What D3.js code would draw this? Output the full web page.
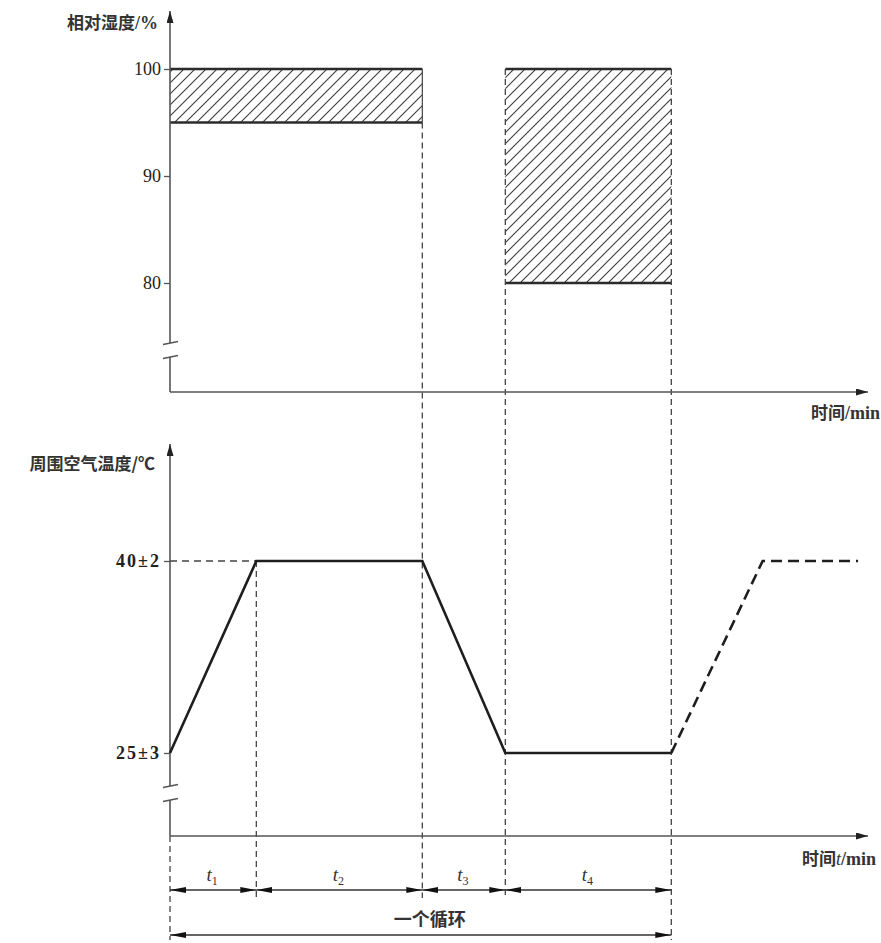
<!DOCTYPE html>
<html>
<head>
<meta charset="utf-8">
<script src="https://cdn.jsdelivr.net/npm/d3@7"></script>
<style>
  body { margin: 0; background: #fff; }
  .cjk { font-family: "Noto Sans CJK SC", sans-serif; font-weight: 700; }
  .num { font-family: "Liberation Serif", "DejaVu Serif", serif; }
</style>
</head>
<body>
<svg id="chart" width="881" height="943"></svg>
<script>
// Phase boundaries of one test cycle (schematic minutes)
const phaseNames = ["1", "2", "3", "4"];
const phaseBounds = [0, 1.04, 3.04, 4.04, 6.04];

// Relative humidity tolerance bands (%)
const bandStart = [0, 4.04];
const bandEnd = [3.04, 6.04];
const bandLow = [95, 80];
const bandHigh = [100, 100];
const humidityTicks = [80, 90, 100];

// Ambient temperature profile of one cycle (°C)
const tempTime = [0, 1.04, 3.04, 4.04, 6.04];
const tempValue = [25, 40, 40, 25, 25];
// Beginning of the following cycle
const nextTime = [6.04, 7.14, 8.29];
const nextValue = [25, 40, 40];
const tempTicks = [25, 40];
const tempTickLabels = ["25±3", "40±2"];

const axisEnd = 8.41;

const svg = d3.select("#chart");
const ink = "#2b2b2b";
const axisInk = "#555";
const serif = '"Liberation Serif", "DejaVu Serif", serif';

const x = d3.scaleLinear().domain([0, 10]).range([170, 1000]);
const yH = d3.scaleLinear().domain([80, 100]).range([283, 69]);
const yT = d3.scaleLinear().domain([25, 40]).range([753, 561]);

// panel layout
const hBase = 392, hTop = 11, hBreak = [343, 357];
const tBase = 836, tTop = 444, tBreak = [786, 800];

const defs = svg.append("defs");
defs.append("pattern")
  .attr("id", "hatch").attr("patternUnits", "userSpaceOnUse")
  .attr("width", 11).attr("height", 11)
  .append("path")
  .attr("d", "M0,11 L11,0 M-3,3 L3,-3 M8,14 L14,8")
  .attr("stroke", "#3a3a3a").attr("stroke-width", 1.1);

function marker(id, len, w, color) {
  defs.append("marker")
    .attr("id", id).attr("markerUnits", "userSpaceOnUse")
    .attr("viewBox", `0 0 ${len} ${w}`)
    .attr("refX", len).attr("refY", w / 2)
    .attr("markerWidth", len).attr("markerHeight", w)
    .attr("orient", "auto-start-reverse")
    .append("path").attr("d", `M0,0 L${len},${w / 2} L0,${w} Z`).attr("fill", color);
}
marker("axArrow", 12, 7, "#222");
marker("dimArrow", 16, 6, "#111");

const line = d3.line();

// ---------- humidity panel ----------
bandStart.forEach((s, i) => {
  const x0 = x(s), x1 = x(bandEnd[i]), y0 = yH(bandHigh[i]), y1 = yH(bandLow[i]);
  svg.append("rect").attr("x", x0).attr("y", y0).attr("width", x1 - x0).attr("height", y1 - y0)
    .attr("fill", "url(#hatch)");
  svg.append("path").attr("d", line([[x0, y0], [x1, y0]])).attr("stroke", ink).attr("stroke-width", 2.4);
  svg.append("path").attr("d", line([[x0, y1], [x1, y1]])).attr("stroke", ink).attr("stroke-width", 2.4);
});
// closing edge of the first band
svg.append("path").attr("d", line([[x(bandEnd[0]), yH(bandHigh[0])], [x(bandEnd[0]), yH(bandLow[0])]]))
  .attr("stroke", "#444").attr("stroke-width", 1.2);

// ---------- phase guide lines ----------
const dashed = (pts, w = 1.3, dash = "6,4") =>
  svg.append("path").attr("d", line(pts)).attr("fill", "none")
    .attr("stroke", "#444").attr("stroke-width", w).attr("stroke-dasharray", dash);

dashed([[x(phaseBounds[0]), tBase], [x(phaseBounds[0]), 940]]);
dashed([[x(phaseBounds[1]), yT(40)], [x(phaseBounds[1]), 898]]);
dashed([[x(phaseBounds[2]), yH(bandLow[0])], [x(phaseBounds[2]), 898]]);
dashed([[x(phaseBounds[3]), yH(100)], [x(phaseBounds[3]), 898]]);
dashed([[x(phaseBounds[4]), yH(100)], [x(phaseBounds[4]), 940]]);

// ---------- axes ----------
function yAxis(scale, ticks, fmt, base, top, brk, spacing, weight) {
  const g = svg.append("g").attr("transform", `translate(${x(0)},0)`)
    .call(d3.axisLeft(scale).tickValues(ticks).tickSize(6).tickPadding(3).tickFormat(fmt));
  g.select(".domain").remove();
  g.attr("font-family", serif).attr("font-size", 18);
  g.selectAll(".tick line").attr("stroke", axisInk).attr("stroke-width", 1.3);
  g.selectAll(".tick text").attr("font-family", serif).attr("font-size", 18).attr("fill", "#222")
    .attr("font-weight", weight).attr("letter-spacing", spacing);
  const ax = x(0);
  svg.append("path").attr("d", line([[ax, base], [ax, brk[1]]])).attr("stroke", axisInk).attr("stroke-width", 1.6);
  svg.append("path").attr("d", line([[ax, brk[0]], [ax, top]])).attr("stroke", axisInk).attr("stroke-width", 1.6)
    .attr("marker-end", "url(#axArrow)");
  brk.forEach(b => svg.append("path").attr("d", line([[ax - 7, b + 1.5], [ax + 8, b - 1.5]]))
    .attr("stroke", axisInk).attr("stroke-width", 1.6));
}
function xAxis(base) {
  svg.append("path").attr("d", line([[x(0), base], [x(axisEnd), base]]))
    .attr("stroke", axisInk).attr("stroke-width", 1.6).attr("marker-end", "url(#axArrow)");
}
yAxis(yH, humidityTicks, null, hBase, hTop, hBreak, 0, 400);
xAxis(hBase);
yAxis(yT, tempTicks, (d, i) => tempTickLabels[i], tBase, tTop, tBreak, 2, 700);
xAxis(tBase);

// ---------- temperature profile ----------
svg.append("path").attr("d", line([[x(0), yT(40)], [x(tempTime[1]), yT(40)]]))
  .attr("stroke", "#444").attr("stroke-width", 1.4).attr("stroke-dasharray", "7,5");
svg.append("path").attr("d", line(tempTime.map((t, i) => [x(t), yT(tempValue[i])])))
  .attr("fill", "none").attr("stroke", "#1e1e1e").attr("stroke-width", 2.6).attr("stroke-linejoin", "miter");
svg.append("path").attr("d", line(nextTime.map((t, i) => [x(t), yT(nextValue[i])])))
  .attr("fill", "none").attr("stroke", "#1e1e1e").attr("stroke-width", 2.6).attr("stroke-dasharray", "11,6");

// ---------- dimension lines ----------
const dimY = 890, cycleY = 935;
phaseNames.forEach((n, i) => {
  const a = x(phaseBounds[i]), b = x(phaseBounds[i + 1]);
  svg.append("path").attr("d", line([[a, dimY], [b, dimY]])).attr("stroke", "#333").attr("stroke-width", 1.4)
    .attr("marker-start", "url(#dimArrow)").attr("marker-end", "url(#dimArrow)");
  const t = svg.append("text").attr("font-family", serif).attr("x", (a + b) / 2 - 1).attr("y", 881)
    .attr("text-anchor", "middle").attr("font-size", 19).attr("fill", "#333");
  t.append("tspan").attr("font-style", "italic").text("t");
  t.append("tspan").attr("font-size", 12).attr("dy", 4).text(n);
});
svg.append("path").attr("d", line([[x(phaseBounds[0]), cycleY], [x(phaseBounds[4]), cycleY]]))
  .attr("stroke", "#333").attr("stroke-width", 1.4)
  .attr("marker-start", "url(#dimArrow)").attr("marker-end", "url(#dimArrow)");
svg.append("text").attr("class", "cjk").attr("x", (x(phaseBounds[0]) + x(phaseBounds[4])) / 2 + 9).attr("y", 926)
  .attr("text-anchor", "middle").attr("font-size", 18).attr("font-weight", 600).attr("fill", "#333").text("一个循环");

// ---------- axis titles ----------
function title(xp, yp, anchor, parts) {
  const t = svg.append("text").attr("x", xp).attr("y", yp).attr("text-anchor", anchor)
    .attr("font-size", 17).attr("fill", "#333");
  parts.forEach(([s, cls, italic]) => {
    const sp = t.append("tspan").attr("class", cls).text(s);
    if (cls === "num") sp.attr("font-size", 18).attr("font-weight", 700);
    if (italic) sp.attr("font-style", "italic").attr("font-weight", 400);
  });
}
title(158, 29, "end", [["相对湿度", "cjk"], ["/%", "num"]]);
title(155, 470, "end", [["周围空气温度/℃", "cjk"]]);
title(880, 419, "end", [["时间", "cjk"], ["/min", "num"]]);
title(876, 865, "end", [["时间", "cjk"], ["t", "num", true], ["/min", "num"]]);
</script>
</body>
</html>
